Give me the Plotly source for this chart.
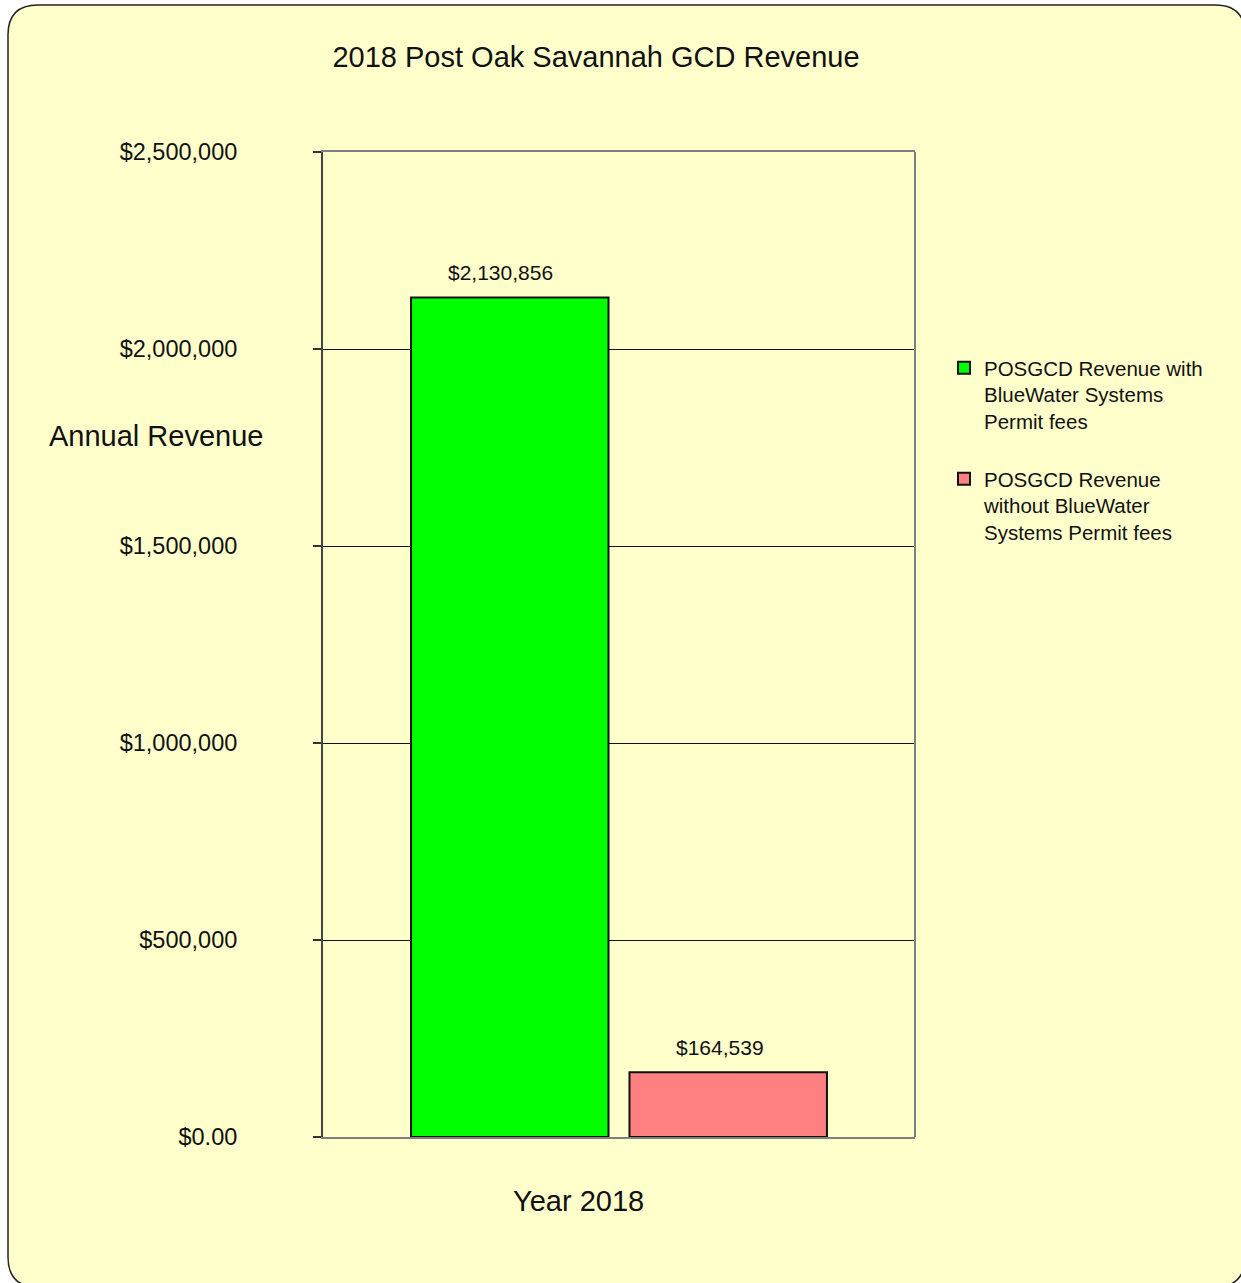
import plotly.graph_objects as go

# ---- data ----
categories = ["2018"]
series_names = [
    "POSGCD Revenue with<br>BlueWater Systems<br>Permit fees",
    "POSGCD Revenue<br>without BlueWater<br>Systems Permit fees",
]
with_bluewater = [2130856]
without_bluewater = [164539]
tick_values = [0, 500000, 1000000, 1500000, 2000000, 2500000]
tick_labels = ["$0.00", "$500,000", "$1,000,000", "$1,500,000", "$2,000,000", "$2,500,000"]

FONT = "Arial, 'Liberation Sans', sans-serif"
W, H = 1241, 1283
L, R, T, B = 323, 915, 152, 1137
PW, PH = R - L, B - T


def px(x):
    return (x - L) / PW


def py(y):
    return (B - y) / PH


fig = go.Figure()
fig.add_trace(go.Bar(
    x=categories, y=with_bluewater, name=series_names[0], legendgroup="a",
    marker=dict(color="#00FF00", line=dict(color="#111111", width=2)),
))
fig.add_trace(go.Bar(
    x=categories, y=without_bluewater, name=series_names[1], legendgroup="b",
    marker=dict(color="#FF8080", line=dict(color="#111111", width=2)),
))

# rounded frame
x0, y0, x1, y1, r = 8, 5, 1245, 1287, 30
path = (
    f"M {px(x0 + r)},{py(y0)} L {px(x1 - r)},{py(y0)} "
    f"Q {px(x1)},{py(y0)} {px(x1)},{py(y0 + r)} L {px(x1)},{py(y1 - r)} "
    f"Q {px(x1)},{py(y1)} {px(x1 - r)},{py(y1)} L {px(x0 + r)},{py(y1)} "
    f"Q {px(x0)},{py(y1)} {px(x0)},{py(y1 - r)} L {px(x0)},{py(y0 + r)} "
    f"Q {px(x0)},{py(y0)} {px(x0 + r)},{py(y0)} Z"
)
shapes = [
    dict(type="path", xref="paper", yref="paper", path=path, layer="below",
         fillcolor="#FFFFCC", line=dict(color="#222222", width=1.5)),
    dict(type="line", xref="paper", yref="paper", x0=1, x1=1, y0=0, y1=1,
         line=dict(color="#808080", width=2), layer="above"),
]

# value labels above bars (anchored to the data values; category index 0)
cat_index = categories.index("2018")
label_font = dict(size=21, family=FONT, color="#111111")
annotations = [
    dict(text=f"${with_bluewater[0]:,}", xref="x", yref="y", x=cat_index,
         y=with_bluewater[0], xshift=-119, yshift=25, xanchor="center",
         yanchor="middle", showarrow=False, font=label_font),
    dict(text=f"${without_bluewater[0]:,}", xref="x", yref="y", x=cat_index,
         y=without_bluewater[0], xshift=101, yshift=25, xanchor="center",
         yanchor="middle", showarrow=False, font=label_font),
    dict(text="Annual Revenue", xref="paper", yref="paper", x=px(156), y=py(436),
         xanchor="center", yanchor="middle", showarrow=False,
         font=dict(size=29, family=FONT, color="#111111")),
    dict(text="Year 2018", xref="paper", yref="paper", x=px(578), y=py(1201),
         xanchor="center", yanchor="middle", showarrow=False,
         font=dict(size=29, family=FONT, color="#111111")),
]

fig.update_layout(
    width=W, height=H,
    margin=dict(l=L, r=W - R, t=T, b=H - B, pad=0),
    paper_bgcolor="white", plot_bgcolor="#FFFFCC",
    font=dict(family=FONT, color="#111111"),
    barmode="group", bargap=0.262, bargroupgap=0.096,
    title=dict(text="2018 Post Oak Savannah GCD Revenue", x=596 / W, xanchor="center",
               y=1 - 57 / H, yanchor="middle", yref="container",
               font=dict(size=29, family=FONT, color="#111111")),
    shapes=shapes,
    showlegend=True,
    legend=dict(x=px(944), y=py(348), xanchor="left", yanchor="top",
                font=dict(size=20.5, family=FONT, color="#111111"),
                bgcolor="rgba(0,0,0,0)", valign="top", tracegroupgap=28,
                traceorder="grouped"),
    annotations=annotations,
)
fig.update_xaxes(type="category", range=[-0.5, 0.5],
                 showticklabels=False, ticks="", showgrid=False, showline=True,
                 linecolor="#808080", linewidth=2, mirror=True, zeroline=False)
fig.update_yaxes(range=[0, 2500000], tickvals=tick_values, ticktext=tick_labels,
                 ticks="outside", ticklen=8, tickcolor="#333333", tickwidth=1.5,
                 showline=True, linecolor="#444444", linewidth=2, mirror=False,
                 showgrid=True, gridcolor="#111111", gridwidth=1, zeroline=False,
                 ticklabelstandoff=71,
                 tickfont=dict(size=23.5, family=FONT, color="#111111"))

fig.write_html("out.html")
